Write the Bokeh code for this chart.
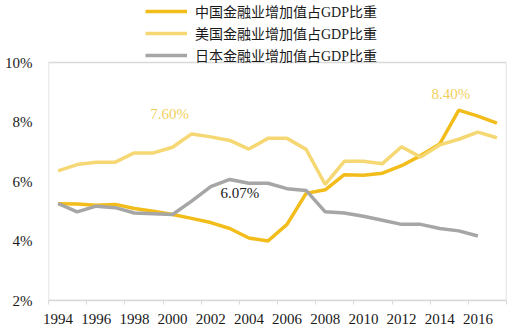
from bokeh.plotting import figure
from bokeh.models import FixedTicker, Range1d, Legend, LegendItem, Label, CustomJSTickFormatter
from bokeh.embed import file_html
from bokeh.resources import INLINE

years = list(range(1994, 2018))
china = [5.25, 5.24, 5.2, 5.23, 5.09, 5.0, 4.89, 4.76, 4.62, 4.42, 4.1, 4.0, 4.56, 5.6, 5.72,
         6.23, 6.21, 6.28, 6.53, 6.87, 7.26, 8.4, 8.2, 7.96]
usa = [6.36, 6.57, 6.65, 6.65, 6.96, 6.96, 7.15, 7.6, 7.5, 7.38, 7.09, 7.45, 7.45, 7.08, 5.9,
       6.68, 6.68, 6.6, 7.17, 6.82, 7.23, 7.42, 7.66, 7.47]
japan_years = list(range(1994, 2017))
japan = [5.26, 4.98, 5.17, 5.12, 4.94, 4.92, 4.89, 5.34, 5.83, 6.07, 5.94, 5.94, 5.76, 5.7, 4.98,
         4.94, 4.83, 4.7, 4.56, 4.56, 4.42, 4.34, 4.17]
names = ["中国金融业增加值占GDP比重", "美国金融业增加值占GDP比重", "日本金融业增加值占GDP比重"]
tick_years = list(range(1994, 2017, 2))
y_ticks = [2, 4, 6, 8, 10]
y_min, y_max = 2, 10

C_CN = "#F2BC1B"
C_US = "#F5D873"
C_JP = "#A6A6A6"
C_FRAME = "#D9D9D9"
FONT = "'Liberation Serif', 'Noto Sans CJK SC'"

x0, x1 = years[0] - 0.5, years[-1] + 0.5
# the frame reaches the top of the figure so the legend can sit above the plot box
p = figure(width=522, height=334, output_backend="svg", toolbar_location=None,
           x_range=Range1d(x0, x1), y_range=Range1d(y_min, y_max + 62 / 29.75),
           min_border_left=48, min_border_right=16, min_border_top=0, min_border_bottom=34)
p.background_fill_color = "white"
p.border_fill_color = "white"
p.outline_line_color = None
p.grid.visible = False

# plot box
p.quad(left=[x0], right=[x1], bottom=[y_min], top=[y_max], fill_color=None,
       line_color=C_FRAME, line_width=1.5)

r_cn = p.line(years, china, line_color=C_CN, line_width=3.5)
r_us = p.line(years, usa, line_color=C_US, line_width=3.5)
r_jp = p.line(japan_years, japan, line_color=C_JP, line_width=3.5)

p.xaxis.ticker = FixedTicker(ticks=tick_years, minor_ticks=[y - 0.5 for y in tick_years] + [x1])
p.xaxis.major_tick_line_color = None
p.xaxis.minor_tick_line_color = C_FRAME
p.xaxis.minor_tick_out = 4
p.xaxis.minor_tick_in = 0
p.xaxis.axis_line_color = C_FRAME
p.xaxis.axis_line_width = 1.5
p.xaxis.major_label_text_font = FONT
p.xaxis.major_label_text_font_size = "15px"
p.xaxis.major_label_text_color = "#1a1a1a"
p.xaxis.major_label_standoff = 7

p.yaxis.ticker = FixedTicker(ticks=y_ticks)
p.yaxis.formatter = CustomJSTickFormatter(code="return tick + '%';")
p.yaxis.major_tick_line_color = None
p.yaxis.minor_tick_line_color = None
p.yaxis.axis_line_color = None
p.yaxis.major_label_text_font = FONT
p.yaxis.major_label_text_font_size = "15px"
p.yaxis.major_label_text_color = "#1a1a1a"
p.yaxis.major_label_standoff = 10

legend = Legend(items=[LegendItem(label=names[0], renderers=[r_cn]),
                       LegendItem(label=names[1], renderers=[r_us]),
                       LegendItem(label=names[2], renderers=[r_jp])],
                location=(97, 235), orientation="vertical")
legend.label_text_font = FONT
legend.label_text_font_size = "14px"
legend.label_text_color = "#1a1a1a"
legend.glyph_width = 42
legend.glyph_height = 18
legend.label_height = 18
legend.spacing = 2
legend.padding = 0
legend.margin = 0
legend.border_line_color = None
legend.background_fill_alpha = 0
legend.label_standoff = 8
p.add_layout(legend)

p.add_layout(Label(x=years[7], y=usa[7], text="7.60%", text_color="#F2CF5B", text_font=FONT,
                   text_font_size="15px", text_align="center", x_offset=-22, y_offset=12))
p.add_layout(Label(x=japan_years[9], y=japan[9], text="6.07%", text_color="#1a1a1a", text_font=FONT,
                   text_font_size="15px", text_align="center", x_offset=10, y_offset=-22))
p.add_layout(Label(x=years[21], y=china[21], text="8.40%", text_color="#F2CF5B", text_font=FONT,
                   text_font_size="15px", text_align="center", x_offset=-8, y_offset=8))

open("out.html", "w").write(file_html(p, INLINE))
